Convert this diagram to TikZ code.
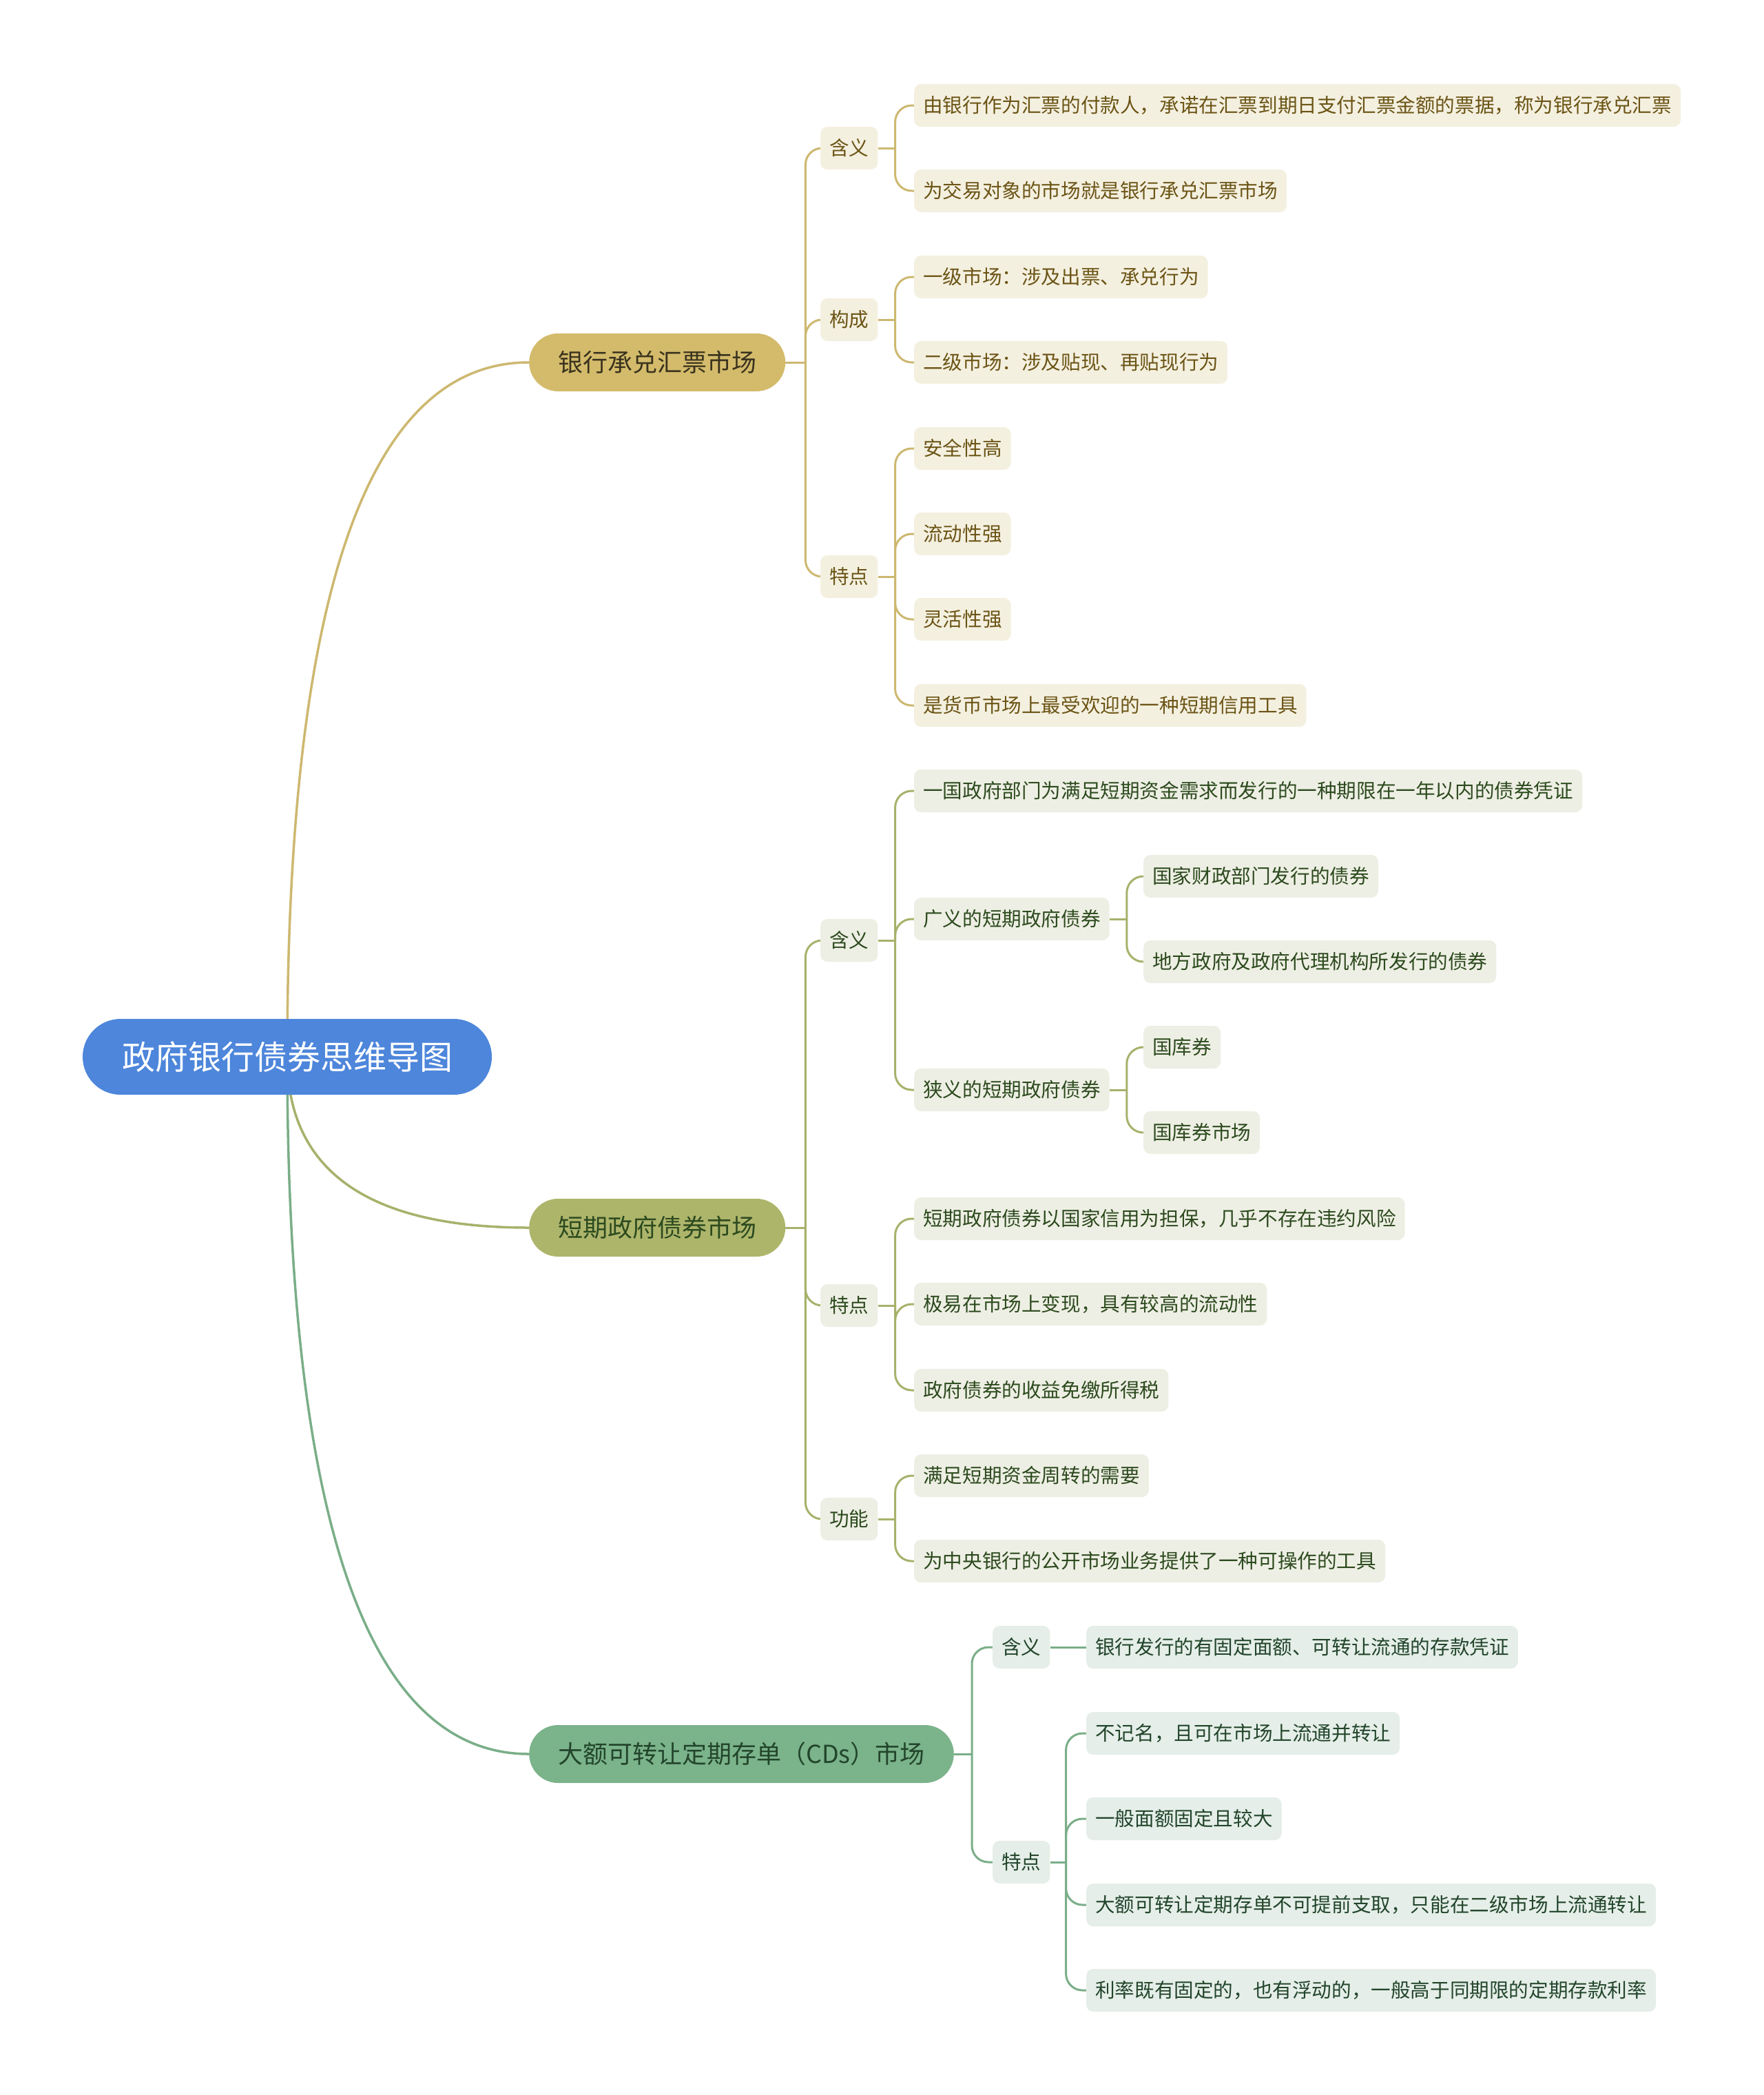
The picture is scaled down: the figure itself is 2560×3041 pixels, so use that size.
\documentclass[tikz,border=0pt]{standalone}
\usepackage{fontspec}
\setmainfont{Noto Sans CJK SC}
\usetikzlibrary{calc, backgrounds}
\definecolor{rootblue}{HTML}{4D86DB}
\definecolor{bankgold}{HTML}{D3BB6B}
\definecolor{bankline}{HTML}{CDB870}
\definecolor{bankleaf}{HTML}{F4F0E0}
\definecolor{banktext}{HTML}{6B5415}
\definecolor{bankdark}{HTML}{3A321E}
\definecolor{govolive}{HTML}{ADB56B}
\definecolor{govline}{HTML}{A8B16B}
\definecolor{govleaf}{HTML}{EEEFE4}
\definecolor{govtext}{HTML}{2C4A1E}
\definecolor{cdgreen}{HTML}{7BB38B}
\definecolor{cdline}{HTML}{7AAE88}
\definecolor{cdleaf}{HTML}{E5EEE8}
\definecolor{cdtext}{HTML}{22452B}

\begin{document}
\begin{tikzpicture}[x=1pt, y=-1pt,
    root/.style={fill=rootblue, text=white, rounded corners=55pt,
                 minimum width=594pt, minimum height=110pt,
                 text height=42pt, text depth=6pt,
                 font=\fontsize{48}{56}\selectfont},
    topic/.style 2 args={fill=#1, text=#2, anchor=west, rounded corners=42pt,
                 minimum height=84pt, inner xsep=42pt,
                 text height=31.5pt, text depth=4.5pt,
                 font=\fontsize{36}{42}\selectfont},
    leaf/.style 2 args={fill=#1, text=#2, anchor=west, rounded corners=10pt,
                 minimum height=62pt, inner xsep=13pt,
                 text height=25pt, text depth=3.6pt,
                 font=\fontsize{28.6}{34}\selectfont},
    ln/.style={draw=#1, line width=3pt},
]
    \useasboundingbox (0,0) rectangle (2560,3041);

    \node[root] (root) at (417,1534) {政府银行债券思维导图};

    % bank acceptance branch
    \node[topic={bankgold}{bankdark}] (bank) at (768,526) {银行承兑汇票市场};
    \node[leaf={bankleaf}{banktext}] (bkhy) at (1191,215) {含义};
    \node[leaf={bankleaf}{banktext}] (bkgc) at (1191,464) {构成};
    \node[leaf={bankleaf}{banktext}] (bktd) at (1191,837) {特点};
    \node[leaf={bankleaf}{banktext}] (bkhy1) at (1327,153) {由银行作为汇票的付款人，承诺在汇票到期日支付汇票金额的票据，称为银行承兑汇票};
    \node[leaf={bankleaf}{banktext}] (bkhy2) at (1327,277) {为交易对象的市场就是银行承兑汇票市场};
    \node[leaf={bankleaf}{banktext}] (bkgc1) at (1327,402) {一级市场：涉及出票、承兑行为};
    \node[leaf={bankleaf}{banktext}] (bkgc2) at (1327,526) {二级市场：涉及贴现、再贴现行为};
    \node[leaf={bankleaf}{banktext}] (bktd1) at (1327,651) {安全性高};
    \node[leaf={bankleaf}{banktext}] (bktd2) at (1327,775) {流动性强};
    \node[leaf={bankleaf}{banktext}] (bktd3) at (1327,899) {灵活性强};
    \node[leaf={bankleaf}{banktext}] (bktd4) at (1327,1024) {是货币市场上最受欢迎的一种短期信用工具};

    % short-term government bond branch
    \node[topic={govolive}{govtext}] (gov) at (768,1782) {短期政府债券市场};
    \node[leaf={govleaf}{govtext}] (gvhy) at (1191,1365) {含义};
    \node[leaf={govleaf}{govtext}] (gvtd) at (1191,1895) {特点};
    \node[leaf={govleaf}{govtext}] (gvgn) at (1191,2205) {功能};
    \node[leaf={govleaf}{govtext}] (gvhy1) at (1327,1148) {一国政府部门为满足短期资金需求而发行的一种期限在一年以内的债券凭证};
    \node[leaf={govleaf}{govtext}] (gvgy) at (1327,1334) {广义的短期政府债券};
    \node[leaf={govleaf}{govtext}] (gvxy) at (1327,1582) {狭义的短期政府债券};
    \node[leaf={govleaf}{govtext}] (gvgy1) at (1660,1272) {国家财政部门发行的债券};
    \node[leaf={govleaf}{govtext}] (gvgy2) at (1660,1396) {地方政府及政府代理机构所发行的债券};
    \node[leaf={govleaf}{govtext}] (gvxy1) at (1660,1520) {国库券};
    \node[leaf={govleaf}{govtext}] (gvxy2) at (1660,1644) {国库券市场};
    \node[leaf={govleaf}{govtext}] (gvtd1) at (1327,1769) {短期政府债券以国家信用为担保，几乎不存在违约风险};
    \node[leaf={govleaf}{govtext}] (gvtd2) at (1327,1893) {极易在市场上变现，具有较高的流动性};
    \node[leaf={govleaf}{govtext}] (gvtd3) at (1327,2018) {政府债券的收益免缴所得税};
    \node[leaf={govleaf}{govtext}] (gvgn1) at (1327,2142) {满足短期资金周转的需要};
    \node[leaf={govleaf}{govtext}] (gvgn2) at (1327,2266) {为中央银行的公开市场业务提供了一种可操作的工具};

    % CDs branch
    \node[topic={cdgreen}{cdtext}] (cd) at (768,2546) {大额可转让定期存单（CDs）市场};
    \node[leaf={cdleaf}{cdtext}] (cdhy) at (1441,2391) {含义};
    \node[leaf={cdleaf}{cdtext}] (cdtd) at (1441,2703) {特点};
    \node[leaf={cdleaf}{cdtext}] (cdhy1) at (1577,2391) {银行发行的有固定面额、可转让流通的存款凭证};
    \node[leaf={cdleaf}{cdtext}] (cdtd1) at (1577,2516) {不记名，且可在市场上流通并转让};
    \node[leaf={cdleaf}{cdtext}] (cdtd2) at (1577,2640) {一般面额固定且较大};
    \node[leaf={cdleaf}{cdtext}] (cdtd3) at (1577,2765) {大额可转让定期存单不可提前支取，只能在二级市场上流通转让};
    \node[leaf={cdleaf}{cdtext}] (cdtd4) at (1577,2889) {利率既有固定的，也有浮动的，一般高于同期限的定期存款利率};

    \begin{pgfonlayer}{background}
        \fill[white] (0,0) rectangle (2560,3041);
        % root to topics
        \foreach \t/\c in {bank/bankline, gov/govline, cd/cdline}
            \draw[ln=\c, line width=3.5pt] (root.center)
                .. controls ($(root.center)!2/3!(root.center |- \t.west)$)
                and ($(\t.west)!2/3!(root.center |- \t.west)$) .. (\t.west);
        % bank
        \draw[ln=bankline] (bank.east) -- ++(29,0) coordinate (bkT);
        \foreach \k in {bkhy, bkgc, bktd}
            \draw[ln=bankline, rounded corners=24pt] (bkT) |- (\k.west);
        \draw[ln=bankline] (bkhy.east) -- ++(25,0) coordinate (bkhyT);
        \foreach \k in {bkhy1, bkhy2}
            \draw[ln=bankline, rounded corners=24pt] (bkhyT) |- (\k.west);
        \draw[ln=bankline] (bkgc.east) -- ++(25,0) coordinate (bkgcT);
        \foreach \k in {bkgc1, bkgc2}
            \draw[ln=bankline, rounded corners=24pt] (bkgcT) |- (\k.west);
        \draw[ln=bankline] (bktd.east) -- ++(25,0) coordinate (bktdT);
        \foreach \k in {bktd1, bktd2, bktd3, bktd4}
            \draw[ln=bankline, rounded corners=24pt] (bktdT) |- (\k.west);
        % government
        \draw[ln=govline] (gov.east) -- ++(29,0) coordinate (gvT);
        \foreach \k in {gvhy, gvtd, gvgn}
            \draw[ln=govline, rounded corners=24pt] (gvT) |- (\k.west);
        \draw[ln=govline] (gvhy.east) -- ++(25,0) coordinate (gvhyT);
        \foreach \k in {gvhy1, gvgy, gvxy}
            \draw[ln=govline, rounded corners=24pt] (gvhyT) |- (\k.west);
        \draw[ln=govline] (gvgy.east) -- ++(25,0) coordinate (gvgyT);
        \foreach \k in {gvgy1, gvgy2}
            \draw[ln=govline, rounded corners=24pt] (gvgyT) |- (\k.west);
        \draw[ln=govline] (gvxy.east) -- ++(25,0) coordinate (gvxyT);
        \foreach \k in {gvxy1, gvxy2}
            \draw[ln=govline, rounded corners=24pt] (gvxyT) |- (\k.west);
        \draw[ln=govline] (gvtd.east) -- ++(25,0) coordinate (gvtdT);
        \foreach \k in {gvtd1, gvtd2, gvtd3}
            \draw[ln=govline, rounded corners=24pt] (gvtdT) |- (\k.west);
        \draw[ln=govline] (gvgn.east) -- ++(25,0) coordinate (gvgnT);
        \foreach \k in {gvgn1, gvgn2}
            \draw[ln=govline, rounded corners=24pt] (gvgnT) |- (\k.west);
        % CDs
        \draw[ln=cdline] (cd.east) -- ++(26,0) coordinate (cdT);
        \foreach \k in {cdhy, cdtd}
            \draw[ln=cdline, rounded corners=24pt] (cdT) |- (\k.west);
        \draw[ln=cdline] (cdhy.east) -- (cdhy1.west);
        \draw[ln=cdline] (cdtd.east) -- ++(23,0) coordinate (cdtdT);
        \foreach \k in {cdtd1, cdtd2, cdtd3, cdtd4}
            \draw[ln=cdline, rounded corners=24pt] (cdtdT) |- (\k.west);
    \end{pgfonlayer}
\end{tikzpicture}
\end{document}
